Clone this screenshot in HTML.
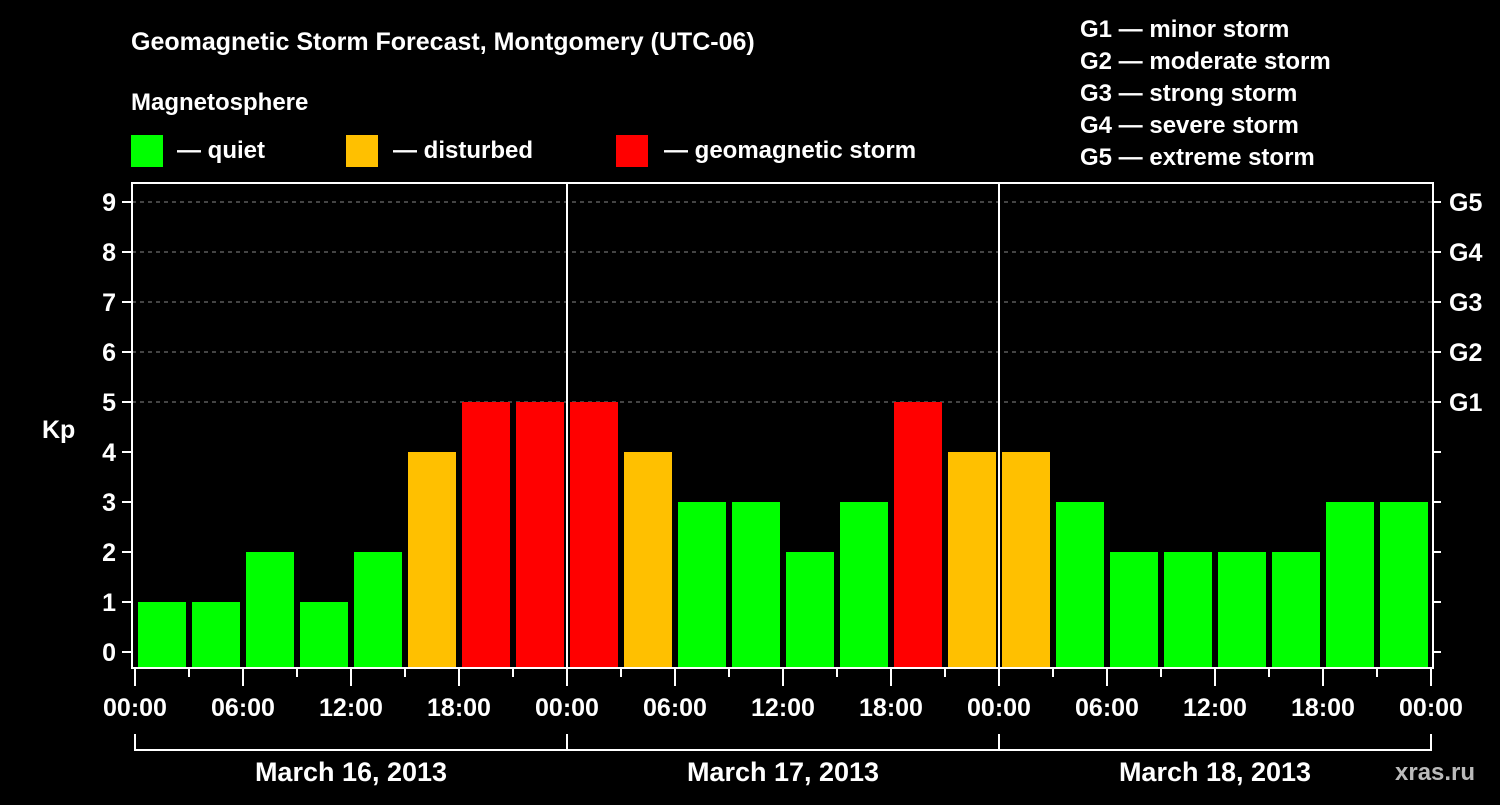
<!DOCTYPE html>
<html><head><meta charset="utf-8"><style>
body{margin:0;background:#000;width:1500px;height:800px;overflow:hidden}
svg text{font-family:"Liberation Sans",Arial,sans-serif;font-weight:bold;fill:#fff}
</style></head><body>
<svg id="c" width="1500" height="800" xmlns="http://www.w3.org/2000/svg">
<rect width="1500" height="800" fill="#000"/>
<text x="131" y="50" font-size="25">Geomagnetic Storm Forecast, Montgomery (UTC-06)</text>
<text x="131" y="110" font-size="24">Magnetosphere</text>
<g><rect x="131" y="135" width="32" height="32" fill="#00ff00"/><text x="177" y="158" font-size="24">— quiet</text></g>
<g><rect x="346" y="135" width="32" height="32" fill="#ffc000"/><text x="393" y="158" font-size="24">— disturbed</text></g>
<g><rect x="616" y="135" width="32" height="32" fill="#ff0000"/><text x="664" y="158" font-size="24">— geomagnetic storm</text></g>
<g font-size="24">
<text x="1080" y="37">G1 — minor storm</text><text x="1080" y="69">G2 — moderate storm</text><text x="1080" y="101">G3 — strong storm</text><text x="1080" y="133">G4 — severe storm</text><text x="1080" y="165">G5 — extreme storm</text></g>
<text x="42" y="438" font-size="25">Kp</text>
<text x="1395" y="780" font-size="24" fill="#bbb" style="fill:#bbb">xras.ru</text>
<g id="grid"></g><g id="bars"></g><g id="axes"></g>
</svg>
<script>
const kpValues=[1,1,2,1,2,4,5,5, 5,4,3,3,2,3,5,4, 4,3,2,2,2,2,3,3];
const yTicks=[0,1,2,3,4,5,6,7,8,9];
const gLabels=["G1","G2","G3","G4","G5"];
const gKp=[5,6,7,8,9];
const xLabels=["00:00","06:00","12:00","18:00","00:00","06:00","12:00","18:00","00:00","06:00","12:00","18:00","00:00"];
const dayLabels=["March 16, 2013","March 17, 2013","March 18, 2013"];
const NS="http://www.w3.org/2000/svg";
const X0=135,SLOT=54,L=132,R=1433,T=183,B=668;
const x=i=>X0+SLOT*i;
const y=v=>652-50*v;
function mk(t,a,p){const e=document.createElementNS(NS,t);for(const k in a)e.setAttribute(k,a[k]);p.appendChild(e);return e;}
const grid=document.getElementById('grid'),bars=document.getElementById('bars'),axes=document.getElementById('axes');
gKp.forEach(v=>{const l=mk('line',{x1:L,x2:R,y1:y(v),y2:y(v),stroke:'#888','stroke-dasharray':'4,4','stroke-width':1},grid);

});
kpValues.forEach((v,i)=>{const c=v>=5?'#ff0000':v>=4?'#ffc000':'#00ff00';
const r=mk('rect',{x:x(i)+3,y:y(v),width:48,height:B-y(v),fill:c},bars);

});
[1,2].forEach(d=>{const l=mk('line',{x1:x(d*8),x2:x(d*8),y1:T,y2:B,stroke:'#fff','stroke-width':2},axes);

});
mk('rect',{x:L,y:T,width:R-L,height:B-T,fill:'none',stroke:'#fff','stroke-width':2},axes);
yTicks.forEach(v=>{mk('line',{x1:122,x2:L,y1:y(v),y2:y(v),stroke:'#fff','stroke-width':2},axes);
mk('line',{x1:R,x2:1441,y1:y(v),y2:y(v),stroke:'#fff','stroke-width':2},axes);
const t=mk('text',{x:116,y:y(v)+9,'font-size':25,'text-anchor':'end'},axes);t.textContent=v;

});
gLabels.forEach((g,i)=>{const t=mk('text',{x:1449,y:y(gKp[i])+9,'font-size':25},axes);t.textContent=g;

});
for(let i=0;i<=24;i++){mk('line',{x1:x(i),x2:x(i),y1:B,y2:i%2?677:686,stroke:'#fff','stroke-width':2},axes);}
xLabels.forEach((s,i)=>{const t=mk('text',{x:x(i*2),y:716,'font-size':25,'text-anchor':'middle'},axes);t.textContent=s;

});
mk('path',{d:`M${x(0)},734V750H${x(24)}V734`,fill:'none',stroke:'#fff','stroke-width':2},axes);
[1,2].forEach(d=>mk('line',{x1:x(d*8),x2:x(d*8),y1:734,y2:750,stroke:'#fff','stroke-width':2},axes));
dayLabels.forEach((s,i)=>{const t=mk('text',{x:x(i*8+4),y:781,'font-size':27,'text-anchor':'middle'},axes);t.textContent=s;

});
</script>
</body></html>
